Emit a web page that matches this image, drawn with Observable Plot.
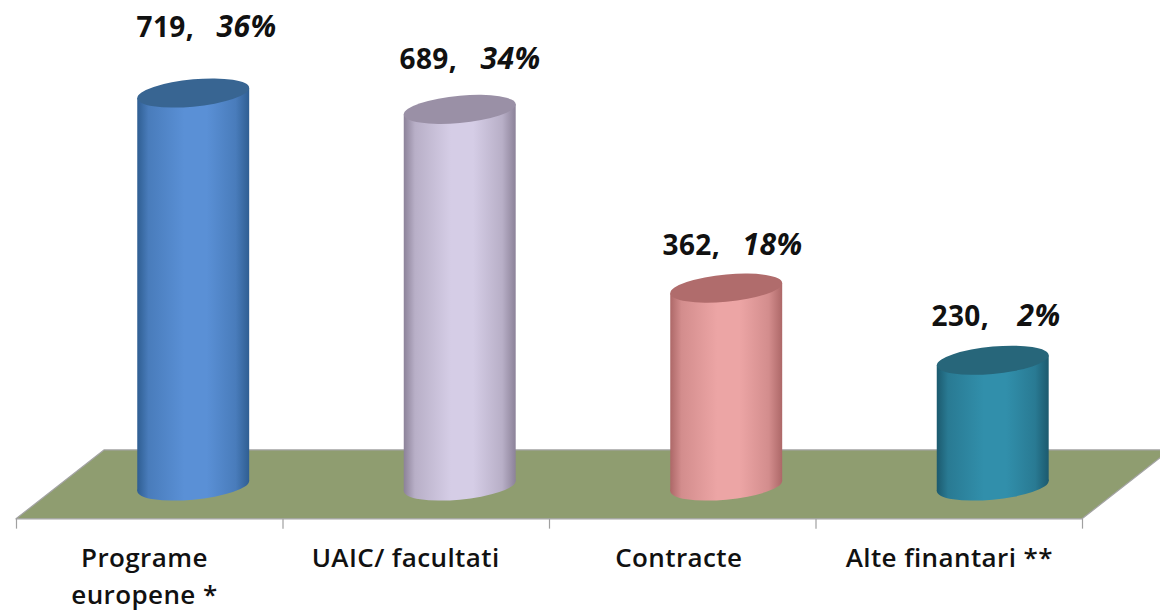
<!DOCTYPE html>
<html><head><meta charset="utf-8">
<script src="https://cdn.jsdelivr.net/npm/d3@7"></script>
<script src="https://cdn.jsdelivr.net/npm/@observablehq/plot@0.6"></script>
<style>html,body{margin:0;padding:0;background:#fff;overflow:hidden}svg{display:block}</style>
</head><body><div id="chart"></div>
<script>
const categories = ["Programe\neuropene *", "UAIC/ facultati", "Contracte", "Alte finantari **"];
const counts = [719, 689, 362, 230];
const percents = ["36%", "34%", "18%", "2%"];
const bodyEdge = ["#2f5e92", "#8c8299", "#ad6868", "#1c5a6e"];
const bodyMid = ["#5a90d6", "#d5cde6", "#eca5a5", "#318fab"];
const lidColor = ["#386592", "#9a90a6", "#b06c6c", "#27667a"];

const rows = categories.map((name, i) => ({name, i, count: counts[i], pct: percents[i]}));
const binEdges = [0, 1, 2, 3, 4];

// layout
const rim = 25, tilt = 0.09;
const floorLow = -60, floorHigh = 66, tickLow = -78, labelY = -100, depth = 0.33;
const barL = 0.455, barR = 0.875;
const textNudge = [-0.02, -0.04, -0.015, 0];
const labelPx = [
  {num: 136, pct: 276, up: 57}, {num: 399, pct: 540, up: 41},
  {num: 662, pct: 802, up: 34}, {num: 931, pct: 1060, up: 34.5}
];
const px2x = p => (p - 16) / 266.5;

const defs = () => {
  const d = d3.create("svg:defs");
  rows.forEach(r => {
    const e = bodyEdge[r.i], m = bodyMid[r.i], mix = d3.interpolateRgb(e, m);
    const g = d.append("linearGradient").attr("id", "cyl" + r.i).attr("x1", 0).attr("x2", 1).attr("y1", 0).attr("y2", 0);
    [[0, e], [0.1, mix(0.6)], [0.42, m], [0.62, m], [0.88, mix(0.6)], [1, e]]
      .forEach(([o, c]) => g.append("stop").attr("offset", o).attr("stop-color", c));
  });
  return d.node();
};
const tilted = (round) => (index, scales, values, dims, ctx, next) => {
  const g = next(index, scales, values, dims, ctx);
  d3.select(g).selectAll("rect").each(function () {
    const s = d3.select(this);
    const x = +s.attr("x"), w = +s.attr("width"), h = +s.attr("height");
    const cx = x + w / 2;
    s.attr("transform", `matrix(1,${-tilt},0,1,0,${tilt * cx})`);
    if (round) s.attr("rx", w / 2).attr("ry", h / 2);
  });
  return g;
};

const floor = [
  {y: floorLow, a: 0, b: 4},
  {y: floorHigh, a: depth, b: 4 + depth}
];
const font = "'Open Sans', 'Noto Sans', sans-serif";

const marks = [
  defs,
  Plot.areaX(floor, {y: "y", x1: "a", x2: "b", fill: "#8f9d70", stroke: "#a3a3a3", strokeWidth: 1.2}),
  Plot.ruleX(binEdges, {y1: floorLow, y2: tickLow, stroke: "#a0a0a0", strokeWidth: 1.2}),
  Plot.rect(rows, {x1: d => d.i + barL, x2: d => d.i + barR, y1: -rim, y2: rim, fill: d => `url(#cyl${d.i})`, render: tilted(true)}),
  Plot.rect(rows, {x1: d => d.i + barL, x2: d => d.i + barR, y1: 0, y2: "count", fill: d => `url(#cyl${d.i})`, render: tilted(false)}),
  Plot.rect(rows, {x1: d => d.i + barL, x2: d => d.i + barR, y1: d => d.count - rim, y2: d => d.count + rim, fill: d => lidColor[d.i], render: tilted(true)}),
  Plot.text(rows, {x: d => d.i + 0.5 + textNudge[d.i], y: labelY, text: "name", lineAnchor: "top", lineHeight: 1.42, fontSize: 26, fontWeight: 600, fontFamily: font, fill: "#111"})
];
rows.forEach(r => {
  const p = labelPx[r.i];
  marks.push(
    Plot.text([r], {x: px2x(p.num), y: "count", dy: -p.up, text: d => d.count + ",", textAnchor: "start", lineAnchor: "bottom", fontSize: 28, fontWeight: 700, fontFamily: font, fill: "#111"}),
    Plot.text([r], {x: px2x(p.pct), y: "count", dy: -p.up, text: "pct", textAnchor: "end", lineAnchor: "bottom", fontSize: 30, fontWeight: 700, fontStyle: "italic", fontFamily: font, fill: "#111"})
  );
});

const chart = Plot.plot({
  width: 1160, height: 612,
  marginTop: 0, marginRight: 0, marginBottom: 0, marginLeft: 0,
  style: {background: "#fff", letterSpacing: "0.4px"},
  x: {type: "linear", domain: [0, 4], range: [16, 1082], axis: null},
  y: {type: "linear", domain: [0, 719], range: [486, 93], axis: null},
  marks
});
document.getElementById("chart").append(chart);
</script></body></html>
